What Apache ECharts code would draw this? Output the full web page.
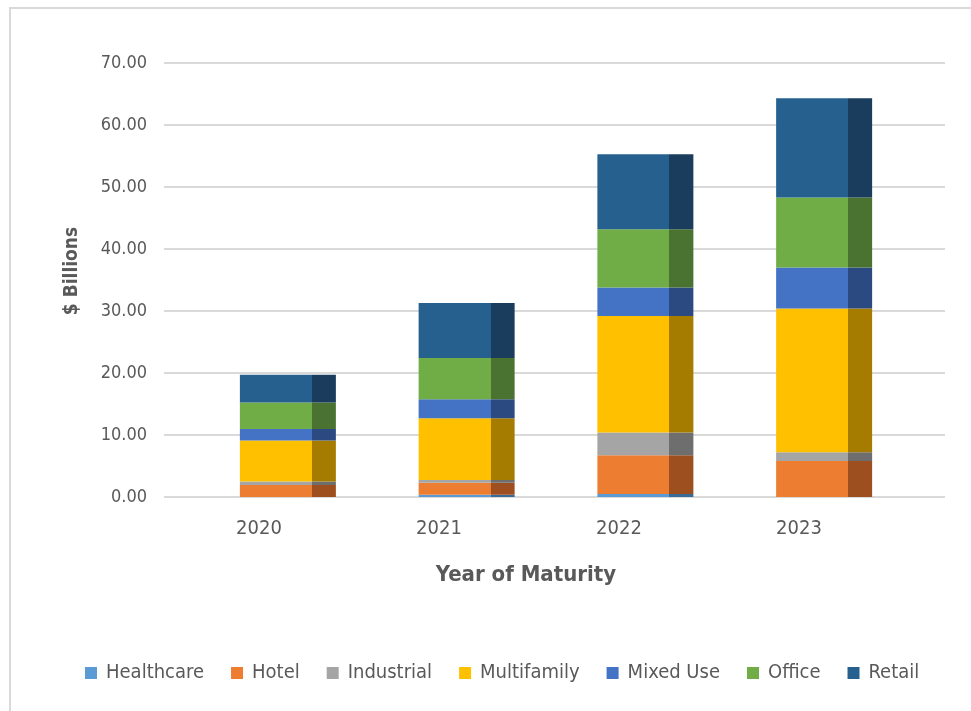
<!DOCTYPE html>
<html>
<head>
<meta charset="utf-8">
<script src="https://cdn.jsdelivr.net/npm/echarts@6/dist/echarts.min.js"></script>
<style>
  html, body { margin: 0; padding: 0; background: #fff; }
  #chart { width: 971px; height: 711px; }
</style>
</head>
<body>
<div id="chart"></div>
<script>
// Maturing loan balances by property type, $ billions
const years = ['2020', '2021', '2022', '2023'];
const healthcare  = [0.00, 0.35, 0.50, 0.00];
const hotel       = [1.95, 1.95, 6.25, 5.80];
const industrial  = [0.55, 0.45, 3.65, 1.40];
const multifamily = [6.60, 9.95, 18.80, 23.20];
const mixedUse    = [1.85, 3.05, 4.60, 6.60];
const office      = [4.30, 6.65, 9.40, 11.30];
const retail      = [4.45, 8.90, 12.10, 16.00];
const yTicks = [0, 10, 20, 30, 40, 50, 60, 70];

const FONT = "'DejaVu Sans Condensed', 'Liberation Sans Narrow', 'Roboto', sans-serif";

const seriesDefs = [
  { name: 'Healthcare',  data: healthcare,  front: '#5B9BD5', side: '#3A6A96' },
  { name: 'Hotel',       data: hotel,       front: '#ED7D31', side: '#9E4F1F' },
  { name: 'Industrial',  data: industrial,  front: '#A5A5A5', side: '#6E6E6E' },
  { name: 'Multifamily', data: multifamily, front: '#FFC000', side: '#A67C00' },
  { name: 'Mixed Use',   data: mixedUse,    front: '#4472C4', side: '#2C4A82' },
  { name: 'Office',      data: office,      front: '#70AD47', side: '#4A7230' },
  { name: 'Retail',      data: retail,      front: '#26608F', side: '#1A3C5D' }
];

// Front face plus a darker right-hand side face on every segment
function faceFill(front, side) {
  return new echarts.graphic.LinearGradient(0, 0, 1, 0, [
    { offset: 0, color: front },
    { offset: 0.75, color: front },
    { offset: 0.75, color: side },
    { offset: 1, color: side }
  ]);
}

const chart = echarts.init(document.getElementById('chart'), null, { renderer: 'canvas' });

const gridTop = 63, gridBottom = 214;

chart.setOption({
  animation: false,
  backgroundColor: '#ffffff',
  textStyle: { fontFamily: FONT },
  grid: [
    // value grid: gridlines and y labels
    { left: 164, right: 26, top: gridTop, bottom: gridBottom },
    // bars
    { left: 198.5, right: 57.5, top: gridTop, bottom: gridBottom },
    // year labels
    { left: 169, right: 82, top: gridTop, bottom: gridBottom }
  ],
  xAxis: [
    { gridIndex: 0, type: 'category', data: [''], show: false },
    { gridIndex: 1, type: 'category', data: years, show: false },
    {
      gridIndex: 2, type: 'category', data: years,
      axisLine: { show: false }, axisTick: { show: false },
      axisLabel: { color: '#595959', fontSize: 20, fontFamily: FONT, margin: 22 }
    }
  ],
  yAxis: [
    {
      gridIndex: 0, type: 'value', min: yTicks[0], max: yTicks[yTicks.length - 1], interval: 10,
      axisLine: { show: false }, axisTick: { show: false },
      splitLine: { lineStyle: { color: '#D9D9D9', width: 2 } },
      axisLabel: {
        color: '#595959', fontSize: 18, fontFamily: FONT, margin: 17,
        formatter: v => v.toFixed(2)
      }
    },
    { gridIndex: 1, type: 'value', min: 0, max: 70, show: false },
    { gridIndex: 2, type: 'value', min: 0, max: 70, show: false }
  ],
  legend: {
    left: 85, top: 663, padding: 0,
    itemWidth: 12, itemHeight: 12, itemGap: 27,
    icon: 'rect',
    textStyle: { color: '#595959', fontSize: 20, fontFamily: FONT, padding: [0, 0, 0, 4] },
    data: seriesDefs.map(s => ({ name: s.name, itemStyle: { color: s.front } }))
  },
  graphic: [
    {
      type: 'rect', silent: true, z: -10,
      shape: { x: 10, y: 8, width: 1000, height: 1000 },
      style: { fill: 'none', stroke: '#D9D9D9', lineWidth: 2 }
    },
    {
      type: 'text', x: 72, y: 271, rotation: Math.PI / 2,
      style: {
        text: '$ Billions', fill: '#595959', font: 'bold 19px ' + FONT,
        align: 'center', verticalAlign: 'middle'
      }
    },
    {
      type: 'text', x: 526, y: 575,
      style: {
        text: 'Year of Maturity', fill: '#595959', font: 'bold 22px ' + FONT,
        align: 'center', verticalAlign: 'middle'
      }
    }
  ],
  series: seriesDefs.map(s => ({
    name: s.name,
    type: 'bar',
    stack: 'total',
    xAxisIndex: 1,
    yAxisIndex: 1,
    barWidth: 96,
    data: s.data,
    itemStyle: { color: faceFill(s.front, s.side) }
  }))
});
</script>
</body>
</html>
